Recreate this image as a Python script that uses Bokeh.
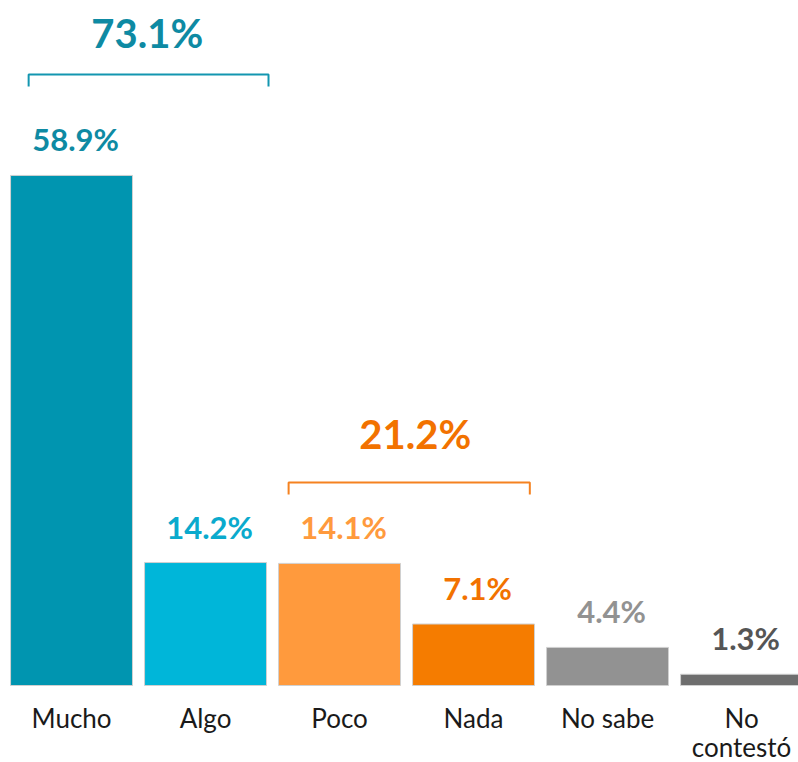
from bokeh.plotting import figure
from bokeh.models import ColumnDataSource, Range1d
from bokeh.core.properties import value
from bokeh.embed import file_html
from bokeh.resources import INLINE

categories = ["Mucho", "Algo", "Poco", "Nada", "No sabe", "No contestó"]
tick_labels = ["Mucho", "Algo", "Poco", "Nada", "No sabe", "No\ncontestó"]
values = [58.9, 14.2, 14.1, 7.1, 4.4, 1.3]
bar_colors = ["#0095B0", "#00B6D9", "#FF9A3D", "#F57C00", "#929292", "#6E6E6E"]
label_colors = ["#0E8AA3", "#0AAACD", "#FF9A3D", "#F27200", "#929292", "#555555"]

groups = ["73.1%", "21.2%"]
group_first = [0, 2]
group_last = [1, 3]
group_colors = ["#0E8AA3", "#F27200"]
group_line_colors = ["#1396B0", "#F58220"]
group_bracket_y = [70.55, 23.44]
group_label_y = [75.4, 29.1]

FONT = "Lato"

xs = [i + 0.5 for i in range(len(categories))]

p = figure(width=798, height=762, output_backend="svg", toolbar_location=None,
           x_range=Range1d(-0.03, 5.925), y_range=Range1d(-8.89, 79.1),
           min_border_left=0, min_border_right=0, min_border_top=0, min_border_bottom=0)
p.outline_line_color = None
p.background_fill_color = "white"
p.grid.visible = False
p.axis.visible = False

src = ColumnDataSource(dict(x=xs, top=values, color=bar_colors, lcolor=label_colors,
                            label=[f"{v:.1f}%" for v in values]))
p.vbar(x="x", top="top", bottom=0, width=0.91, fill_color="color",
       line_color="#D0D0D0", line_width=1, source=src)
p.text(x="x", y="top", text="label", text_color="lcolor", source=src,
       text_font=value(FONT), text_font_style="bold", text_font_size="31px",
       text_align="center", text_baseline="alphabetic", y_offset=-36, x_offset=4)

# brackets
left_off = [-0.32, -0.38]
right_off = [0.47, 0.42]
for name, f, l, c, lc, by, ly, lo, ro in zip(groups, group_first, group_last, group_colors,
                                             group_line_colors, group_bracket_y, group_label_y,
                                             left_off, right_off):
    x0 = xs[f] + lo
    x1 = xs[l] + ro
    p.line(x=[x0, x0, x1, x1], y=[by - 1.39, by, by, by - 1.39], line_color=lc, line_width=2)
    p.text(x=[(xs[f] + xs[l]) / 2 + 0.065], y=[ly], text=[name], text_color=c,
           text_font=value(FONT), text_font_style="bold", text_font_size="40px",
           text_align="center", text_baseline="middle")

# category labels (split into lines)
lx, ltext, loff = [], [], []
for x, t in zip(xs, tick_labels):
    for k, line in enumerate(t.split("\n")):
        lx.append(x)
        ltext.append(line)
        loff.append(32 + 29 * k)
lsrc = ColumnDataSource(dict(x=lx, y=[0] * len(lx), text=ltext, off=loff))
p.text(x="x", y="y", text="text", y_offset="off", source=lsrc,
       text_font=value(FONT), text_font_size="26px", text_color="#1A1A1A",
       text_align="center", text_baseline="alphabetic")

open("out.html", "w").write(file_html(p, INLINE))
